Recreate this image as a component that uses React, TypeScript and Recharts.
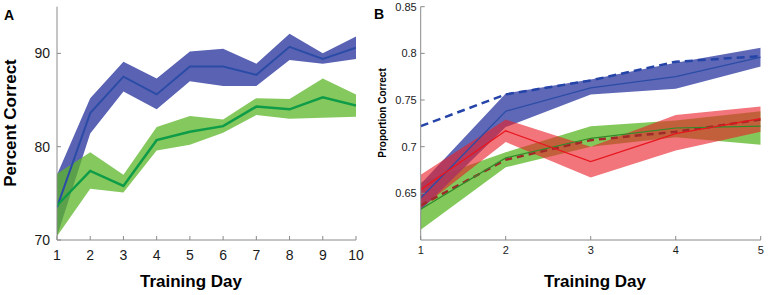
import React from 'react';
import { ComposedChart, Area, Line, XAxis, YAxis } from 'recharts';

// ---------- Panel A data ----------
const daysA = [1, 2, 3, 4, 5, 6, 7, 8, 9, 10];
const aBlueMean = [73.5, 83.6, 87.5, 85.6, 88.6, 88.6, 87.7, 90.7, 89.4, 90.6];
const aBlueLow = [70.4, 81.4, 85.9, 84.0, 87.0, 86.5, 86.5, 89.3, 88.9, 89.4];
const aBlueHigh = [77.0, 85.2, 89.1, 87.3, 90.2, 90.5, 88.9, 92.1, 90.0, 91.8];
const aGreenMean = [73.7, 77.4, 75.8, 80.7, 81.6, 82.2, 84.3, 84.0, 85.3, 84.4];
const aGreenLow = [70.4, 75.5, 75.1, 79.6, 80.2, 81.5, 83.4, 83.0, 83.1, 83.2];
const aGreenHigh = [77.1, 79.4, 77.0, 82.1, 83.3, 82.9, 85.2, 85.1, 87.3, 85.6];
const aYTicks = [70, 80, 90];
const aXTicks = daysA;

// ---------- Panel B data ----------
const daysB = [1, 2, 3, 4, 5];
const bBlueDash = [0.722, 0.756, 0.771, 0.791, 0.797];
const bBlueMean = [0.645, 0.738, 0.763, 0.775, 0.796];
const bBlueLow = [0.632, 0.721, 0.756, 0.762, 0.786];
const bBlueHigh = [0.66, 0.757, 0.772, 0.79, 0.806];
const bRedMean = [0.654, 0.717, 0.684, 0.714, 0.73];
const bRedLow = [0.634, 0.705, 0.667, 0.696, 0.716];
const bRedHigh = [0.67, 0.729, 0.7, 0.734, 0.743];
const bRedDash = [0.637, 0.686, 0.707, 0.716, 0.729];
const bGreenMean = [0.633, 0.688, 0.709, 0.72, 0.722];
const bGreenLow = [0.611, 0.678, 0.7, 0.71, 0.702];
const bGreenHigh = [0.662, 0.694, 0.722, 0.728, 0.738];
const bYTicks = [0.65, 0.7, 0.75, 0.8, 0.85];
const bXTicks = daysB;

const dataA = daysA.map((d, i) => ({
  day: d,
  blueBand: [aBlueLow[i], aBlueHigh[i]],
  blueMean: aBlueMean[i],
  greenBand: [aGreenLow[i], aGreenHigh[i]],
  greenMean: aGreenMean[i],
}));

const dataB = daysB.map((d, i) => ({
  day: d,
  blueBand: [bBlueLow[i], bBlueHigh[i]],
  blueMean: bBlueMean[i],
  blueDash: bBlueDash[i],
  redBand: [bRedLow[i], bRedHigh[i]],
  redMean: bRedMean[i],
  redDash: bRedDash[i],
  greenBand: [bGreenLow[i], bGreenHigh[i]],
  greenMean: bGreenMean[i],
}));

const FONT = '"Liberation Sans", Arial, Helvetica, sans-serif';
const AXIS = '#8a8a8a';
const TXT = '#1a1a1a';

// layout constants
const A = { left: 57, right: 356, top: 6.7, bottom: 240, w: 384, h: 295 };
const B = { left: 36.7, right: 376.7, top: 6.7, bottom: 240, w: 384, h: 295 };

const bottomTick = (axisY: number, baseline: number, fs: number) => (props: any) => {
  const { x, payload } = props;
  return (
    <g>
      <line x1={x} x2={x} y1={axisY} y2={axisY - 4} stroke={AXIS} strokeWidth={1} />
      <text x={x} y={baseline} textAnchor="middle" fontSize={fs} fontFamily={FONT} fill={TXT}>
        {String(payload.value)}
      </text>
    </g>
  );
};
const topTick = (axisY: number) => (props: any) => {
  const { x } = props;
  return <line x1={x} x2={x} y1={axisY} y2={axisY + 4} stroke={AXIS} strokeWidth={1} />;
};
const leftTick = (axisX: number, gap: number, fs: number) => (props: any) => {
  const { y, payload } = props;
  return (
    <g>
      <line x1={axisX} x2={axisX + 4} y1={y} y2={y} stroke={AXIS} strokeWidth={1} />
      <text x={axisX - gap} y={y + fs * 0.36} textAnchor="end" fontSize={fs} fontFamily={FONT} fill={TXT}>
        {String(payload.value)}
      </text>
    </g>
  );
};
const rightTick = (axisX: number) => (props: any) => {
  const { y } = props;
  return <line x1={axisX} x2={axisX - 4} y1={y} y2={y} stroke={AXIS} strokeWidth={1} />;
};

function PanelA() {
  return (
    <ComposedChart
      width={A.w}
      height={A.h}
      data={dataA}
      margin={{ top: A.top, right: A.w - A.right, bottom: A.h - A.bottom - 30, left: A.left - 40 }}
    >
      <XAxis
        dataKey="day"
        type="number"
        domain={[1, 10]}
        ticks={aXTicks}
        height={30}
        axisLine={{ stroke: AXIS }}
        tickLine={false}
        tick={bottomTick(A.bottom, 260, 14)}
        interval={0}
        allowDataOverflow
      />
      <XAxis
        xAxisId="top"
        orientation="top"
        type="number"
        domain={[1, 10]}
        ticks={aXTicks}
        height={0}
        axisLine={{ stroke: AXIS }}
        tickLine={false}
        tick={topTick(A.top)}
        interval={0}
        allowDataOverflow
      />
      <YAxis
        type="number"
        domain={[70, 95]}
        ticks={aYTicks}
        width={40}
        axisLine={{ stroke: AXIS }}
        tickLine={false}
        tick={leftTick(A.left, 7, 14)}
        interval={0}
        allowDataOverflow
      />
      <YAxis
        yAxisId="right"
        orientation="right"
        type="number"
        domain={[70, 95]}
        ticks={aYTicks}
        width={0}
        axisLine={{ stroke: AXIS }}
        tickLine={false}
        tick={rightTick(A.right)}
        interval={0}
        allowDataOverflow
      />
      <Area type="linear" dataKey="blueBand" stroke="none" fill="#5a63b3" fillOpacity={1} isAnimationActive={false} dot={false} activeDot={false} />
      <Line type="linear" dataKey="blueMean" stroke="#2b4ca6" strokeWidth={2} dot={false} activeDot={false} isAnimationActive={false} />
      <Area type="linear" dataKey="greenBand" stroke="none" fill="#5cb628" fillOpacity={0.75} isAnimationActive={false} dot={false} activeDot={false} />
      <Line type="linear" dataKey="greenMean" stroke="#0f9c48" strokeWidth={2.5} dot={false} activeDot={false} isAnimationActive={false} />
    </ComposedChart>
  );
}

function PanelB() {
  return (
    <ComposedChart
      width={B.w}
      height={B.h}
      data={dataB}
      margin={{ top: B.top, right: B.w - B.right, bottom: B.h - B.bottom - 30, left: B.left - 30 }}
    >
      <XAxis
        dataKey="day"
        type="number"
        domain={[1, 5]}
        ticks={bXTicks}
        height={30}
        axisLine={{ stroke: AXIS }}
        tickLine={false}
        tick={bottomTick(B.bottom, 254, 11)}
        interval={0}
        allowDataOverflow
      />
      <XAxis
        xAxisId="top"
        orientation="top"
        type="number"
        domain={[1, 5]}
        ticks={bXTicks}
        height={0}
        axisLine={{ stroke: AXIS }}
        tickLine={false}
        tick={topTick(B.top)}
        interval={0}
        allowDataOverflow
      />
      <YAxis
        type="number"
        domain={[0.6, 0.85]}
        ticks={bYTicks}
        width={30}
        axisLine={{ stroke: AXIS }}
        tickLine={false}
        tick={leftTick(B.left, 4, 11)}
        interval={0}
        allowDataOverflow
      />
      <YAxis
        yAxisId="right"
        orientation="right"
        type="number"
        domain={[0.6, 0.85]}
        ticks={bYTicks}
        width={0}
        axisLine={{ stroke: AXIS }}
        tickLine={false}
        tick={rightTick(B.right)}
        interval={0}
        allowDataOverflow
      />
      <Line type="linear" dataKey="redDash" stroke="#a02a2a" strokeWidth={2.5} strokeDasharray="7 5" dot={false} activeDot={false} isAnimationActive={false} />
      <Line type="linear" dataKey="greenMean" stroke="#2f8a2a" strokeWidth={1.2} dot={false} activeDot={false} isAnimationActive={false} />
      <Area type="linear" dataKey="greenBand" stroke="none" fill="#60b82c" fillOpacity={0.78} isAnimationActive={false} dot={false} activeDot={false} />
      <Area type="linear" dataKey="blueBand" stroke="none" fill="#4e58ae" fillOpacity={0.9} isAnimationActive={false} dot={false} activeDot={false} />
      <Line type="linear" dataKey="blueMean" stroke="#2b4ca6" strokeWidth={1.3} dot={false} activeDot={false} isAnimationActive={false} />
      <Line type="linear" dataKey="blueDash" stroke="#2444a8" strokeWidth={2.5} strokeDasharray="8 5" dot={false} activeDot={false} isAnimationActive={false} />
      <Area type="linear" dataKey="redBand" stroke="none" fill="#e82028" fillOpacity={0.62} isAnimationActive={false} dot={false} activeDot={false} />
      <Line type="linear" dataKey="redMean" stroke="#e8161e" strokeWidth={1.3} dot={false} activeDot={false} isAnimationActive={false} />
    </ComposedChart>
  );
}

export default function App() {
  return (
    <div style={{ position: 'fixed', left: 0, top: 0, width: 768, height: 295, background: '#fff' }}>
      <div style={{ position: 'absolute', left: 0, top: 0 }}>
        <PanelA />
      </div>
      <div style={{ position: 'absolute', left: 384, top: 0 }}>
        <PanelB />
      </div>
      <svg
        width={768}
        height={295}
        style={{ position: 'absolute', left: 0, top: 0, pointerEvents: 'none' }}
      >
        <text x={4} y={20} fontSize={14} fontWeight="bold" fontFamily={FONT} fill="#000">A</text>
        <text x={374} y={19} fontSize={14} fontWeight="bold" fontFamily={FONT} fill="#000">B</text>
        <text
          x={0}
          y={0}
          transform="translate(16,123) rotate(-90)"
          textAnchor="middle"
          fontSize={17}
          fontWeight="bold"
          fontFamily={FONT}
          fill="#000"
        >
          Percent Correct
        </text>
        <text x={191} y={287} textAnchor="middle" fontSize={17} fontWeight="bold" fontFamily={FONT} fill="#000">
          Training Day
        </text>
        <text
          x={0}
          y={0}
          transform="translate(385.5,113) rotate(-90)"
          textAnchor="middle"
          fontSize={10}
          fontWeight="bold"
          fontFamily={FONT}
          fill="#000"
        >
          Proportion Correct
        </text>
        <text x={595} y={287} textAnchor="middle" fontSize={17} fontWeight="bold" fontFamily={FONT} fill="#000">
          Training Day
        </text>
      </svg>
    </div>
  );
}
